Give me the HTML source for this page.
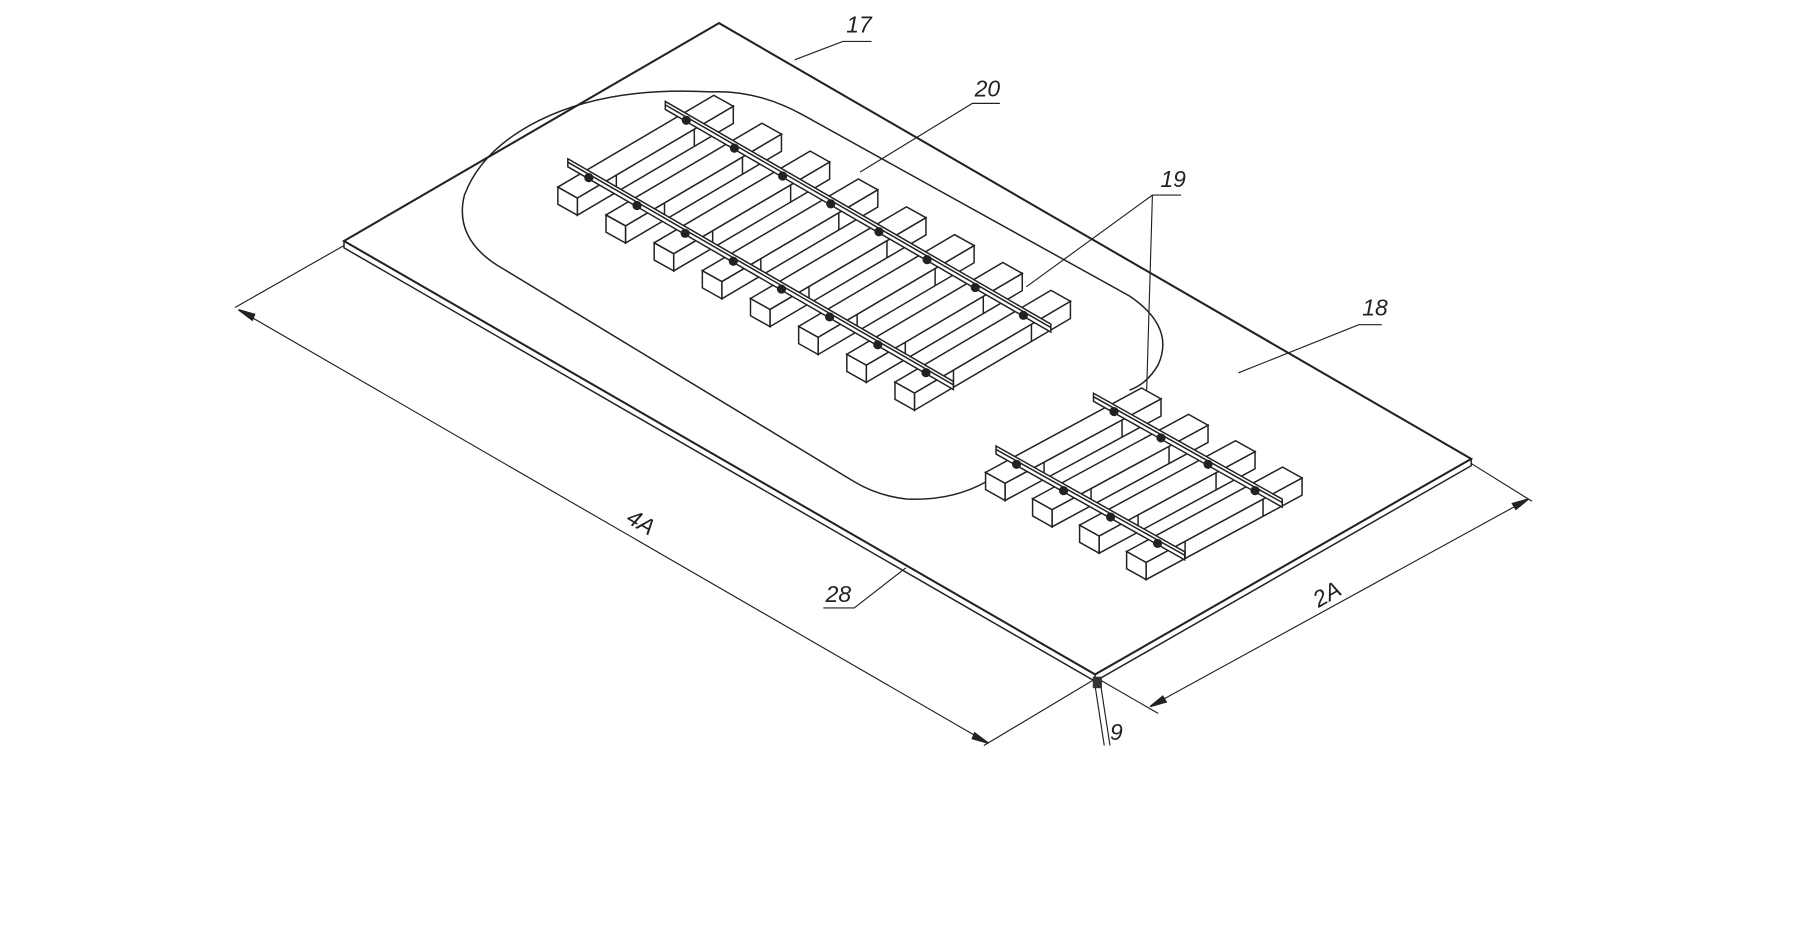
<!DOCTYPE html>
<html><head><meta charset="utf-8"><style>
html,body{margin:0;padding:0;background:#fff;}
svg{display:block;}
text{font-family:"Liberation Sans",sans-serif;font-style:italic;fill:#222;}
</style></head><body>
<svg id="s" width="1798" height="928" viewBox="0 0 1568 809" xmlns="http://www.w3.org/2000/svg">
<g stroke="#222" fill="none" stroke-width="1.3">
<polygon points="627,20 300,210 955,588 1283,400" fill="#fff" stroke-width="1.8"/>
<polyline points="300,210 300,216 955,594 1283,406 1283,400"/>
<line x1="955" y1="588" x2="955" y2="594"/>
<path d="M 620,80 Q 660,78 700,100 L 985,258 Q 1025,285 1010,318 Q 1000,335 985,340 M 860,420 Q 830,437 790,435 Q 765,432 745,420 L 440,235 Q 395,210 405,170 Q 420,130 470,105 Q 530,75 620,80"/>
<line x1="300" y1="214" x2="205" y2="268" stroke-width="1"/>
<line x1="955" y1="592" x2="858" y2="650" stroke-width="1"/>
<line x1="208" y1="270" x2="862" y2="648" stroke-width="1"/>
<line x1="1283" y1="404" x2="1336" y2="437" stroke-width="1"/>
<line x1="958" y1="592" x2="1010" y2="622" stroke-width="1"/>
<line x1="1003" y1="616" x2="1333" y2="435" stroke-width="1"/>
<polygon points="208,270 222,274 220,279" fill="#222"/>
<polygon points="862,648 848,644 850,639" fill="#222"/>
<polygon points="1003,616 1014,607 1017,612" fill="#222"/>
<polygon points="1333,435 1322,444 1319,439" fill="#222"/>
<polyline points="693,52 735,36 760,36" stroke-width="1"/>
<polyline points="750,150 848,90 872,90" stroke-width="1"/>
<polyline points="895,250 1005,170 1030,170" stroke-width="1"/>
<line x1="1005" y1="170" x2="1000" y2="340" stroke-width="1"/>
<polyline points="1080,325 1185,283 1205,283" stroke-width="1"/>
<polyline points="790,495 745,530 718,530" stroke-width="1"/>
<line x1="955" y1="598" x2="963" y2="650" stroke-width="1"/>
<line x1="960" y1="598" x2="968" y2="650" stroke-width="1"/>
<rect x="953" y="590" width="8" height="10" fill="#333" stroke="none"/>
</g>
<g id="tracks" stroke="#222" stroke-width="1.3"></g>
<text x="738" y="28" font-size="20">17</text>
<text x="850" y="84" font-size="20">20</text>
<text x="1012" y="163" font-size="20">19</text>
<text x="1188" y="275" font-size="20">18</text>
<text x="720" y="525" font-size="20">28</text>
<text x="968" y="645" font-size="20">9</text>
<text x="545" y="455" font-size="20" transform="rotate(30 545 455)">4A</text>
<text x="1150" y="530" font-size="20" transform="rotate(-30 1150 530)">2A</text>
</svg>
<script>
var g=document.getElementById('tracks'),NS='http://www.w3.org/2000/svg';
function el(t,a){var e=document.createElementNS(NS,t);for(var k in a)e.setAttribute(k,a[k]);g.appendChild(e);return e;}
function P(a){return a.map(function(p){return p[0].toFixed(1)+','+p[1].toFixed(1)}).join(' ');}
function track(b0,step,n,perp){
 var w=[17,9.5],h=15,dots=[];
 for(var i=0;i<n;i++){
  var B=[b0[0]+step[0]*i,b0[1]+step[1]*i];
  var A=[B[0]-0.3*perp[0],B[1]-0.3*perp[1]],C=[B[0]+1.3*perp[0],B[1]+1.3*perp[1]];
  var Aw=[A[0]+w[0],A[1]+w[1]],Cw=[C[0]+w[0],C[1]+w[1]];
  el('polygon',{points:P([Aw,Cw,[Cw[0],Cw[1]+h],[Aw[0],Aw[1]+h]]),fill:'#fff'});
  el('polygon',{points:P([A,Aw,[Aw[0],Aw[1]+h],[A[0],A[1]+h]]),fill:'#fff'});
  el('polygon',{points:P([A,C,Cw,Aw]),fill:'#fff'});
  for(var t=0.25;t<1;t+=0.5){var m=[A[0]+(C[0]-A[0])*t,A[1]+(C[1]-A[1])*t];
   el('line',{x1:m[0]+w[0],y1:m[1]+w[1],x2:m[0]+w[0],y2:m[1]+w[1]+h});}
  for(var f=0;f<2;f++){dots.push([B[0]+perp[0]*f+w[0]/2-7,B[1]+perp[1]*f+w[1]/2+2]);}
 }
 var L=(n-1)+0.6;
 for(var f=0;f<2;f++){
  var s=[b0[0]+perp[0]*f-step[0]*0.4,b0[1]+perp[1]*f-step[1]*0.4];
  var e=[s[0]+step[0]*L+w[0],s[1]+step[1]*L+w[1]];
  el('polygon',{points:P([s,e,[e[0],e[1]+7],[s[0],s[1]+7]]),fill:'#fff'});
  el('line',{x1:s[0],y1:s[1]+3,x2:e[0],y2:e[1]+3});
 }
 dots.forEach(function(q){el('circle',{cx:q[0],cy:q[1],r:4,fill:'#222',stroke:'none'});});
}
track([512,148],[42,24.3],8,[85,-50]);
track([885,398],[41,23],4,[85,-46]);
</script>
</body></html>
